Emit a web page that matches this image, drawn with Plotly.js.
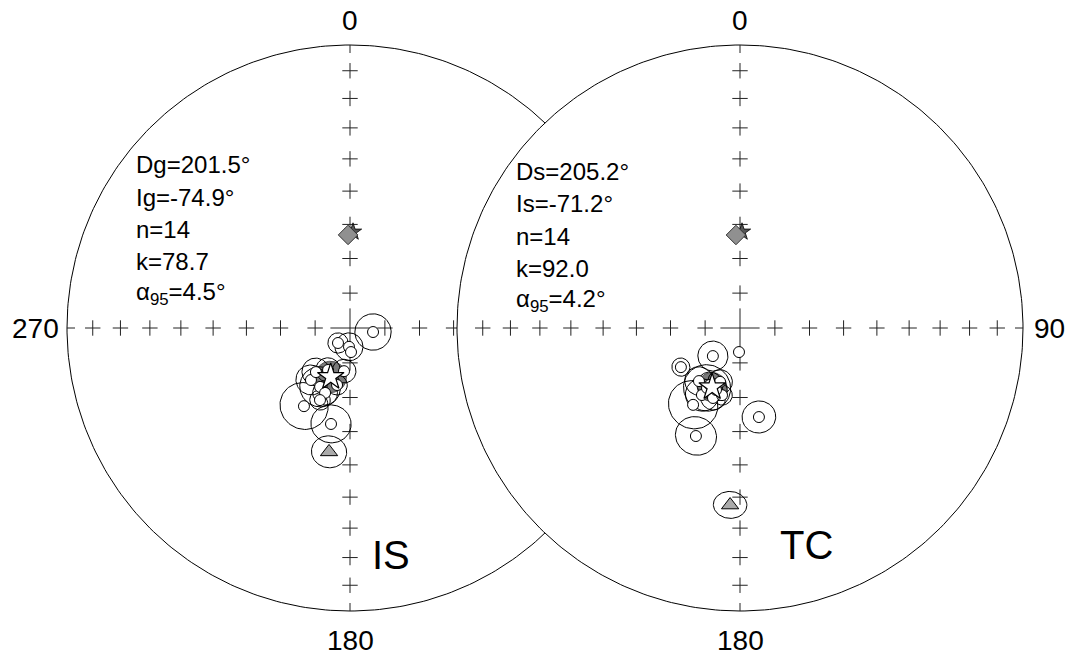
<!DOCTYPE html>
<html>
<head>
<meta charset="utf-8">
<script src="https://cdn.plot.ly/plotly-3.0.1.min.js"></script>
<style>html,body{margin:0;padding:0;background:#fff;}#chart{width:1072px;height:663px;}</style>
</head>
<body>
<div id="chart"></div>
<script>
// ---------- data (declination, inclination, alpha95 in degrees) ----------
const isDec = [99.9, 218.7, 183.0, 177.6, 187.9, 216.9, 206.9, 201.0, 210.5, 191.2, 217.7, 192.8, 207.6, 202.6];
const isInc = [-83.3, -84.5, -84.6, -83.1, -77.5, -71.3, -71.0, -70.0, -63.8, -61.7, -74.0, -73.2, -76.4, -67.5];
const isA95 = [5.2, 2.9, 4.0, 1.2, 3.4, 4.3, 5.8, 3.5, 6.8, 5.6, 4.0, 2.9, 3.5, 2.9];

const tcDec = [182.4, 224.0, 236.5, 217.7, 200.3, 209.6, 201.1, 195.0, 208.8, 211.4, 202.2, 168.0, 207.8, 201.2];
const tcInc = [-83.1, -78.8, -69.6, -70.7, -73.5, -67.8, -68.4, -70.0, -70.3, -64.0, -56.1, -63.7, -71.5, -70.9];
const tcA95 = [0.95, 4.3, 2.6, 4.1, 3.5, 4.7, 3.5, 2.9, 6.7, 7.0, 5.7, 4.7, 3.7, 3.2];

// mean directions [dec, inc, a95]
const isMean = [201.5, -74.9, 4.5];
const tcMean = [205.2, -71.2, 4.2];
// expected direction (triangle) [dec, inc, a95]
const isExpected = [189.6, -53.4, 4.8];
const tcExpected = [183.2, -37.4, 4.3];
// reference directions: diamond and small star [dec, inc]
const isDiamond = [358.8, 63.1];
const tcDiamond = [357.5, 63.1];
const isRefStar = [1.8, 62.2];
const tcRefStar = [1.2, 62.2];

const tickIncs = [80, 70, 60, 50, 40, 30, 20, 10];
const tickAz = [0, 90, 180, 270];

const isStats = ["Dg=201.5°", "Ig=-74.9°", "n=14", "k=78.7", "α<sub>95</sub>=4.5°"];
const tcStats = ["Ds=205.2°", "Is=-71.2°", "n=14", "k=92.0", "α<sub>95</sub>=4.2°"];

// ---------- geometry ----------
const R = 283;
const nets = [{cx: 350, cy: 328}, {cx: 740, cy: 328}];
const d2r = Math.PI / 180;

function proj(net, dec, inc) {
  const r = Math.sqrt(1 - Math.sin(Math.abs(inc) * d2r));
  return [net.cx + R * r * Math.sin(dec * d2r), net.cy - R * r * Math.cos(dec * d2r)];
}
function smallCircle(net, dec, inc, a) {
  const I = Math.abs(inc) * d2r, D = dec * d2r;
  const c = [Math.cos(I) * Math.cos(D), Math.cos(I) * Math.sin(D), Math.sin(I)];
  let u = [c[1], -c[0], 0];
  let nu = Math.hypot(u[0], u[1]);
  if (nu < 1e-9) { u = [1, 0, 0]; nu = 1; }
  u = u.map(v => v / nu);
  const v = [c[1] * u[2] - c[2] * u[1], c[2] * u[0] - c[0] * u[2], c[0] * u[1] - c[1] * u[0]];
  const ar = a * d2r, xs = [], ys = [];
  for (let t = 0; t <= 360; t += 4) {
    const tt = t * d2r;
    const p = [0, 1, 2].map(k => Math.cos(ar) * c[k] + Math.sin(ar) * (Math.cos(tt) * u[k] + Math.sin(tt) * v[k]));
    const pd = Math.atan2(p[1], p[0]) / d2r;
    const pi = Math.asin(Math.max(-1, Math.min(1, p[2]))) / d2r;
    const q = proj(net, pd, pi);
    xs.push(q[0]); ys.push(q[1]);
  }
  return [xs, ys];
}

const font = "Liberation Sans, Arial, Helvetica, sans-serif";
const traces = [];

function buildNet(net, decs, incs, a95s, mean, expected, diamond, refStar, edgeAz) {
  const cx = [], cy = [];
  for (let t = 0; t <= 360; t += 1) {
    cx.push(net.cx + R * Math.sin(t * d2r)); cy.push(net.cy - R * Math.cos(t * d2r));
  }
  traces.push({x: cx, y: cy, mode: 'lines', fill: 'toself', fillcolor: '#ffffff',
    line: {color: '#000', width: 1}, hoverinfo: 'skip'});
  const tx = [], ty = [];
  tickAz.forEach(az => tickIncs.forEach(inc => { const q = proj(net, az, inc); tx.push(q[0]); ty.push(q[1]); }));
  traces.push({x: tx, y: ty, mode: 'markers', hoverinfo: 'skip',
    marker: {symbol: 'cross-thin', size: 11, line: {color: '#222', width: 1}}});
  traces.push({x: [net.cx], y: [net.cy], mode: 'markers', hoverinfo: 'skip',
    marker: {symbol: 'cross-thin', size: 28, line: {color: '#222', width: 1}}});
  edgeAz.forEach(az => {
    traces.push({x: [net.cx + R * Math.sin(az * d2r), net.cx + (R - 8) * Math.sin(az * d2r)],
      y: [net.cy - R * Math.cos(az * d2r), net.cy - (R - 8) * Math.cos(az * d2r)],
      mode: 'lines', line: {color: '#222', width: 1}, hoverinfo: 'skip'});
  });
  const mc = smallCircle(net, mean[0], mean[1], mean[2]);
  traces.push({x: mc[0], y: mc[1], mode: 'lines', fill: 'toself', fillcolor: '#7a7a7a',
    line: {color: '#555', width: 1}, hoverinfo: 'skip'});
  for (let i = 0; i < decs.length; i++) {
    const sc = smallCircle(net, decs[i], incs[i], a95s[i]);
    traces.push({x: sc[0], y: sc[1], mode: 'lines', line: {color: '#000', width: 1}, hoverinfo: 'skip'});
  }
  const px = [], py = [];
  for (let i = 0; i < decs.length; i++) { const q = proj(net, decs[i], incs[i]); px.push(q[0]); py.push(q[1]); }
  traces.push({x: px, y: py, mode: 'markers', hoverinfo: 'skip',
    marker: {symbol: 'circle', size: 11, color: '#fff', line: {color: '#000', width: 1}}});
  const ec = smallCircle(net, expected[0], expected[1], expected[2]);
  traces.push({x: ec[0], y: ec[1], mode: 'lines', line: {color: '#000', width: 1}, hoverinfo: 'skip'});
  const eq = proj(net, expected[0], expected[1]);
  traces.push({x: [eq[0]], y: [eq[1]], mode: 'markers', hoverinfo: 'skip',
    marker: {symbol: 'triangle-up', size: 15, color: '#aaaaaa', line: {color: '#000', width: 1}}});
  const rs = proj(net, refStar[0], refStar[1]);
  traces.push({x: [rs[0]], y: [rs[1]], mode: 'markers', hoverinfo: 'skip',
    marker: {symbol: 'star', size: 13, color: '#555', line: {color: '#000', width: 0.8}}});
  const dq = proj(net, diamond[0], diamond[1]);
  traces.push({x: [dq[0]], y: [dq[1]], mode: 'markers', hoverinfo: 'skip',
    marker: {symbol: 'diamond', size: 15, color: '#909090', line: {color: '#333', width: 1}}});
  const mq = proj(net, mean[0], mean[1]);
  traces.push({x: [mq[0]], y: [mq[1]], mode: 'markers', hoverinfo: 'skip',
    marker: {symbol: 'star', size: 20, color: '#fff', line: {color: '#000', width: 1.2}}});
}

buildNet(nets[0], isDec, isInc, isA95, isMean, isExpected, isDiamond, isRefStar, [0, 180, 270]);
buildNet(nets[1], tcDec, tcInc, tcA95, tcMean, tcExpected, tcDiamond, tcRefStar, [0, 90, 180]);

const annotations = [];
function txt(x, y, text, size, anchor) {
  annotations.push({x: x, y: y, xref: 'x', yref: 'y', text: text, showarrow: false,
    xanchor: anchor || 'center', yanchor: 'middle', font: {family: font, size: size, color: '#000'}});
}
const isBase = [164, 197, 229, 261, 293];
const tcBase = [171, 203, 236, 268, 300];
isStats.forEach((s, i) => txt(134, isBase[i], s, 24, 'left'));
tcStats.forEach((s, i) => txt(514, tcBase[i], s, 24, 'left'));
txt(nets[0].cx, 20, '0', 28);
txt(nets[0].cx, 640, '180', 28);
txt(35, 328, '270', 28);
txt(nets[1].cx, 20, '0', 28);
txt(nets[1].cx, 640, '180', 28);
txt(1049, 328, '90', 28);
txt(391, 555, 'IS', 40);
txt(806, 545, 'TC', 40);

const layout = {
  width: 1072, height: 663,
  margin: {l: 0, r: 0, t: 0, b: 0, pad: 0},
  paper_bgcolor: '#fff', plot_bgcolor: '#fff',
  showlegend: false,
  xaxis: {range: [0, 1072], visible: false, fixedrange: true},
  yaxis: {range: [663, 0], visible: false, fixedrange: true},
  annotations: annotations,
  font: {family: font}
};
Plotly.newPlot('chart', traces, layout, {staticPlot: true, displayModeBar: false});
</script>
</body>
</html>
